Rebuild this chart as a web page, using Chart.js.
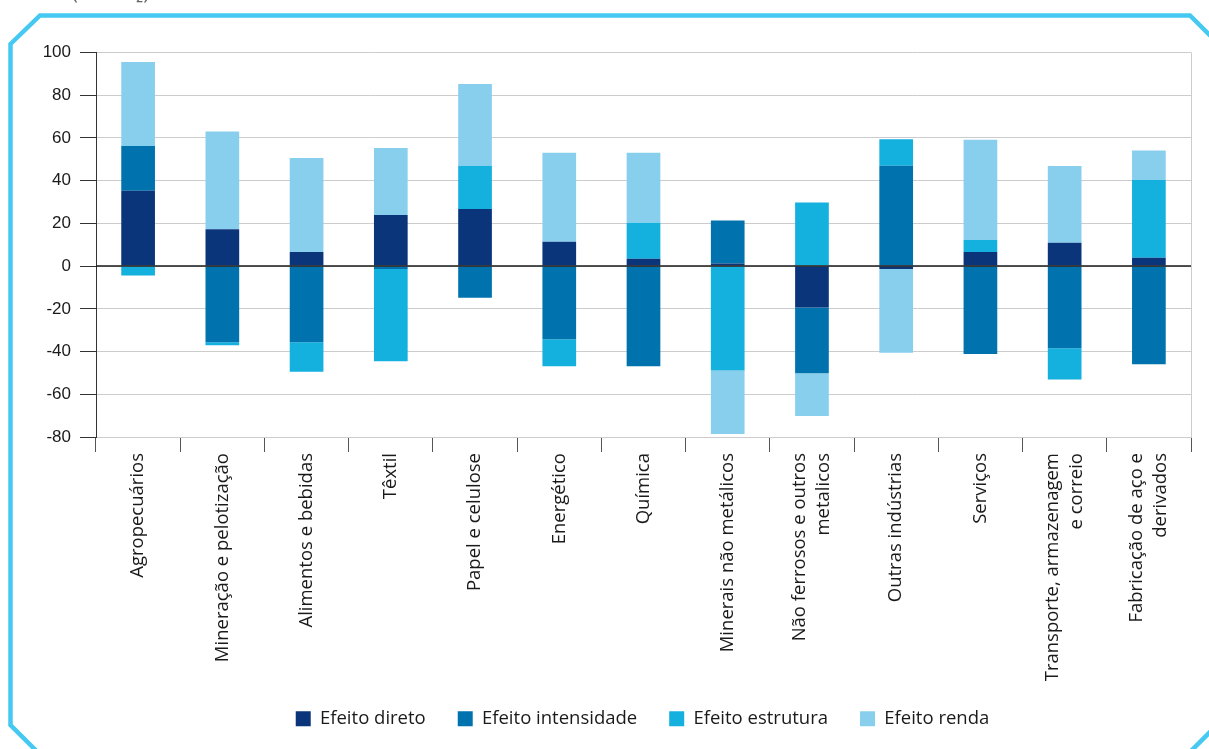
<!DOCTYPE html>
<html>
<head>
<meta charset="utf-8">
<script src="https://cdn.jsdelivr.net/npm/chart.js@4"></script>
<style>
  html, body { margin: 0; padding: 0; background: #fff; overflow: hidden; }
  #wrap { width: 1209px; height: 749px; }
</style>
</head>
<body>
<div id="wrap"><canvas id="canvas1" width="1209" height="749"></canvas></div>
<script>
"use strict";

// categories (multi-line labels as arrays)
const categories = [
    "Agropecuários",
    "Mineração e pelotização",
    "Alimentos e bebidas",
    "Têxtil",
    "Papel e celulose",
    "Energético",
    "Química",
    "Minerais não metálicos",
    ["Não ferrosos e outros", "metalicos"],
    "Outras indústrias",
    "Serviços",
    ["Transporte, armazenagem", "e correio"],
    ["Fabricação de aço e", "derivados"]
];

// series
const efeitoDireto      = [35.3, 17.3,   6.6,  23.9,  26.7,  11.4,   3.4,   1.2, -19.4,  -1.3,   6.6,  10.9,   3.9];
const efeitoIntensidade = [20.9, -35.6, -35.6,  -1.3, -14.8, -34.2, -46.9,  20.2, -30.8,  47.0, -41.1, -38.4, -45.9];
const efeitoEstrutura   = [-4.4,  -1.4, -13.8, -43.2,  20.2, -12.7,  16.9, -48.9,  29.8,  12.4,   5.6, -14.7,  36.4];
const efeitoRenda       = [39.4,  45.7,  44.0,  31.4,  38.3,  41.7,  32.8, -29.7, -20.0, -39.3,  46.9,  36.0,  13.8];

const seriesNames = ["Efeito direto", "Efeito intensidade", "Efeito estrutura", "Efeito renda"];
const seriesColors = ["#0b357b", "#0073ae", "#14b0de", "#88cfee"];

// y axis
const yMin = -80;
const yMax = 100;
const yStep = 20;

const titleText = "(Mt CO₂)";

let canvas1 = document.querySelector("#canvas1");

// cyan frame with cut corners, plus the clipped title above it
const framePlugin = {
    id: "frame",
    afterLayout(chart)
    {
        // legend sits a bit right of centre in the original
        if (chart.legend)
        {
            chart.legend.left += 42;
            chart.legend.right += 42;
        }
    },
    beforeDraw(chart)
    {
        let ctx = chart.ctx;
        ctx.save();
        ctx.strokeStyle = "#45c9f2";
        ctx.lineWidth = 4.5;
        ctx.beginPath();
        ctx.moveTo(10.5, 44);
        ctx.lineTo(40, 15.5);
        ctx.lineTo(1190, 15.5);
        ctx.lineTo(1240, 65);
        ctx.lineTo(1240, 702);
        ctx.lineTo(1182, 760);
        ctx.lineTo(45.5, 760);
        ctx.lineTo(10.5, 725);
        ctx.closePath();
        ctx.stroke();

        ctx.fillStyle = "#666";
        ctx.font = '20px "Open Sans"';
        ctx.textBaseline = "alphabetic";
        ctx.fillText(titleText, 72, -1.5);
        ctx.restore();
    },
    afterDatasetsDraw(chart)
    {
        let ctx = chart.ctx;
        let a = chart.chartArea;
        let y0 = chart.scales.y.getPixelForValue(0);
        ctx.save();
        // zero line over the bars
        ctx.strokeStyle = "#1a1a1a";
        ctx.lineWidth = 1.5;
        ctx.beginPath();
        ctx.moveTo(a.left, y0);
        ctx.lineTo(a.right, y0);
        ctx.stroke();
        // right border
        ctx.strokeStyle = "#cccccc";
        ctx.lineWidth = 1;
        ctx.beginPath();
        ctx.moveTo(a.right + 0.5, a.top);
        ctx.lineTo(a.right + 0.5, a.bottom);
        ctx.stroke();
        ctx.restore();
    },
    // rotated category labels, multi-line blocks centred on the tick
    afterDraw(chart)
    {
        let sc = chart.scales.x;
        let ctx = chart.ctx;
        let lh = 24;
        ctx.save();
        ctx.font = '18.5px "Open Sans"';
        ctx.fillStyle = "#1a1a1a";
        ctx.textAlign = "right";
        ctx.textBaseline = "middle";
        categories.forEach((lab, i) => {
            let lines = Array.isArray(lab) ? lab : [lab];
            let x0 = sc.getPixelForTick(i);
            let y0 = sc.top + 15 + 1;
            lines.forEach((ln, j) => {
                ctx.save();
                ctx.translate(x0 + (j - (lines.length - 1) / 2) * lh, y0);
                ctx.rotate(-Math.PI / 2);
                ctx.fillText(ln, 0, 0);
                ctx.restore();
            });
        });
        ctx.restore();
    }
};

let seriesData = [efeitoDireto, efeitoIntensidade, efeitoEstrutura, efeitoRenda];

let opts = {
    type: "bar",
    data: {
        labels: categories,
        datasets: seriesNames.map((n, i) => ({
            label: n,
            data: seriesData[i],
            backgroundColor: seriesColors[i],
            borderWidth: 0,
            categoryPercentage: 1.0,
            barPercentage: 0.4
        }))
    },
    options: {
        responsive: false,
        animation: false,
        layout: { padding: { top: 52.5, left: 10, right: 18, bottom: 11 } },
        plugins: {
            tooltip: { enabled: false },
            legend: {
                position: "bottom",
                labels: {
                    boxWidth: 15,
                    boxHeight: 15,
                    padding: 32,
                    color: "#1a1a1a",
                    font: { family: "'Open Sans'", size: 18.5 }
                }
            }
        },
        scales: {
            x: {
                stacked: true,
                afterFit: (s) => { s.height = 240.5; },
                grid: {
                    offset: true,
                    drawOnChartArea: false,
                    drawTicks: true,
                    tickLength: 15,
                    tickColor: "#555"
                },
                border: { display: true, color: "#cccccc" },
                ticks: { display: false }
            },
            y: {
                stacked: true,
                min: yMin,
                max: yMax,
                afterFit: (s) => { s.width = 86; },
                grid: {
                    color: "#cccccc",
                    tickColor: "#333",
                    tickLength: 16,
                    lineWidth: 1
                },
                border: { display: true, color: "#333", width: 1 },
                ticks: {
                    stepSize: yStep,
                    padding: 9,
                    color: "#1a1a1a",
                    font: { family: "'Liberation Sans', Arial", size: 17 }
                }
            }
        }
    },
    plugins: [framePlugin]
};

let c1 = new Chart(canvas1, opts);
</script>
</body>
</html>
